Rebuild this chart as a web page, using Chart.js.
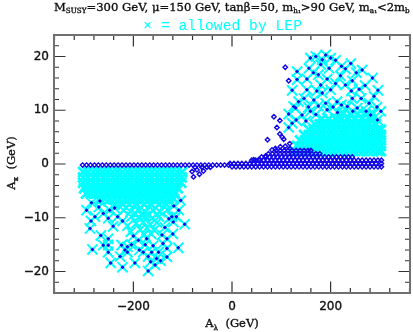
<!DOCTYPE html>
<html>
<head>
<meta charset="UTF-8">
<title>A_kappa vs A_lambda</title>
<script src="https://cdn.jsdelivr.net/npm/chart.js"></script>
<style>
  html, body { margin: 0; padding: 0; background: #fff; }
  #wrap { width: 413px; height: 332px; }
</style>
</head>
<body>
<div id="wrap"><canvas id="grafico" width="413" height="332"></canvas></div>
<script>
// single allowed points, left lobe [A_lambda, A_kappa]
const allowedLeft = [
  [-288,-12.0],[-286,-10.6],[-283,-15.9],[-266,-13.3],[-251,-13.9],[-261,-15.1],[-251,-15.1],[-251,-16.4],
  [-246,-18.4],[-222,-19.2],[-227,-17.2],[-224,-15.1],[-212,-15.4],[-212,-16.4],[-197,-18.4],[-188,-16.0],
  [-170,-19.9],[-156,-18.8],[-153,-17.6],[-170,-17.2],[-180,-16.4],[-149,-16.4],[-132,-17.3],[-132,-15.7],
  [-132,-13.9],[-109,-15.6],[-119,-10.8],[-96,-11.2],[-190,-14.2],[-173,-13.9],[-241,-11.6],[-251,-10.1],
  [-261,-9.2],[-295,-8.6],[-285,-7.2],[-270,-8.0],[-108,-8.6],[-118,-7.8],[-104,-6.8],[-140,-14.8],[-160,-15.2],
  [-217,-16.0],[-204,-15.0],[-165,-18.2],[-145,-18.0],[-120,-13.0],[-122,-9.8],[-113,-9.8],[-136,-11.8],[-128,-10.2],
  [-232,-9.8],[-222,-10.6],[-278,-9.8],[-268,-6.9],[-248,-8.6],[-238,-8.2],[-176,-15.0],
  [-163,-16.4],[-142,-13.2],[-200,-13.4]
];
// crowded allowed points under the left solid part, the blue does not show there
const allowedMid = [
  [-220,-8.6],[-206,-8.9],[-190,-8.5],[-176,-9.0],[-160,-8.6],[-146,-8.9],[-131,-8.5],
  [-204,-9.8],[-190,-10.0],[-176,-9.7],[-162,-10.1],[-148,-9.8],
  [-194,-11.0],[-180,-10.8],[-166,-11.2],[-152,-10.9],[-212,-11.5],[-205,-12.6],
  [-186,-12.2],[-172,-11.9],[-158,-12.3],[-178,-13.1],[-164,-13.0],[-196,-9.2],[-168,-9.4],[-184,-9.4],[-154,-9.4]
];
// single allowed points, right lobe
const allowedRight = [
  [159,19.7],[190,20.3],[183,19.4],[210,19.3],[241,18.7],[264,17.5],[230,17.7],[197,17.8],[180,18.5],[156,17.8],
  [132,17.2],[152,15.8],[132,15.7],[193,15.8],[210,15.0],[244,15.5],[285,16.0],[296,13.7],[258,13.9],[230,14.7],
  [180,14.7],[152,13.8],[122,13.7],[183,13.2],[146,12.2],[166,11.9],[125,10.7],[115,9.3],[142,9.1],[115,6.8],
  [129,10.4],[159,9.8],[190,11.3],[213,11.6],[244,12.2],[278,11.3],[254,10.4],[281,9.1],[302,9.8],[295,8.2],
  [234,10.7],[193,10.1],[170,20.0],[200,19.7],[222,18.2],[252,17.0],[175,16.6],[165,17.0],[220,16.4],[270,14.6],
  [242,13.6],[200,13.8],[172,13.6],[135,11.6],[155,10.6],[175,10.8],[205,10.6],[222,11.0],[262,12.2],[288,12.6],
  [272,9.8],[294,10.6],[130,8.2],[122,7.6],[150,8.0],[170,9.2],[214,9.6],[245,9.8]
];
// solid part of the allowed region, [A_kappa, [A_lambda...]]
const denseLeft = [
  [-1.5,[-302,-292,-282,-272,-262,-252,-242,-232,-222,-212,-202,-192,-182,-172,-162,-152,-142,-132,-122,-112,-101]],
  [-2.5,[-302,-292,-282,-272,-262,-252,-242,-232,-222,-212,-202,-192,-182,-172,-162,-152,-142,-132,-122,-112,-102]],
  [-3.5,[-302,-292,-282,-272,-262,-252,-242,-232,-222,-212,-202,-192,-182,-172,-162,-152,-142,-132,-122,-112,-103]],
  [-4.5,[-300,-290,-280,-270,-260,-250,-240,-230,-220,-210,-200,-190,-180,-170,-160,-150,-140,-130,-120,-110]],
  [-5.5,[-296,-286,-276,-266,-256,-246,-236,-226,-216,-206,-196,-186,-176,-166,-156,-146,-136,-126,-116]],
  [-6.5,[-268,-258,-248,-238,-228,-218,-208,-198,-188,-178,-168,-158,-148,-138,-128,-118]],
  [-7.5,[-238,-222,-208,-194,-178,-164,-148,-134]]
];
const denseRight = [
  [2.4,[126,136,146,156,166,176,186,196,206,216,226,236,246,256,266,276,286,296,302]],
  [3.4,[132,142,152,162,172,182,192,202,212,222,232,242,252,262,272,282,292,302]],
  [4.4,[138,148,158,168,178,188,198,208,218,228,238,248,258,268,278,288,298,302]],
  [5.4,[146,156,166,176,186,196,206,216,226,236,246,256,266,276,286,296,302]],
  [6.4,[156,166,176,186,196,206,216,226,236,246,256,266,276,286,296,302]],
  [7.4,[168,178,188,198,208,218,228,238,248,258,268,278,292]],
  [8.4,[182,196,210,222,236,250,264,282]],
  [9.3,[225,240,255,270,285]]
];
// points outside the allowed region
const excludedPoints = [
  [-78,-2.4],[-66,-1.9],[-58,-1.3],[-81,-1.4],[-71,-1.1],[-51,-0.6],[-61,-0.6],[-75,-0.6],[-44,-0.6],
  [108,18.0],[115,15.5],[85,8.8],[97,8.1],[91,6.8],[97,5.6],[72,4.5],[102,5.0],[105,4.6],[81,2.6],[88,2.9],
  [98,3.2],[108,3.3],[117,2.9],[117,3.8],[68,1.5],[44,0.8],[54,0.8]
];
const bandRows = [
  [-0.2,[-303,-295,-287,-279,-271,-263,-255,-247,-239,-231,-223,-215,-207,-199,-191,-183,-175,-167,-159,-151,-143,-135,-127,-119,-111,-103,-95,-87,-79,-71,-63,-55,-47,-39,-31,-23,-15,-7]],
  [-0.5,[0,8,16,24,32,40,48,56,64,72,80,88,96,104,112,120,128,136,144,152,160,168,176,184,192,200,208,216,224,232,240,248,256,264,272,280,288,296,303]],
  [0.1,[-4,4,12,20,28,36,44,52,60,68,76,84,92,100,108,116,124,132,140,148,156,164,172,180,188,196,204,212,220,228,236,244,252,260,268,276,284,292,303]],
  [0.7,[40,48,56,64,72,80,88,96,104,112,120,128,136,144,152,160,168,176,184,192,200,208,216,224,232,240,248,256,264,272,280,288,296,303]],
  [1.3,[60,68,76,84,92,100,108,116,124,132,140,148,156,164,172,180,188,196,204,212,220,228,236,244]],
  [1.9,[74,82,90,98,106,114,122,130,138,146,154,162,170,178]],
  [2.5,[90,98,106,114,122,130,138,146,154,160]]
];
const xTicksMajor = [-200, 0, 200];
const yTicksMajor = [-20, -10, 0, 10, 20];

const headRuns = [["M"],["SUSY",1],["=300 GeV, μ=150 GeV, tanβ=50, m"],["h₁",1],[">90 GeV, m"],["a₁",1],["<2m"],["b",1]];
const xTitleRuns = [["A"],["λ",1],["  (GeV)"]];
const yTitleRuns = [["A"],["κ",1],["  (GeV)"]];

function expand(rows) {
  return rows.flatMap(r => r[1].map(x => ({ x: x, y: r[0] })));
}
function pts(list) {
  return list.map(p => ({ x: p[0], y: p[1] }));
}
function minus(v) {
  return String(v).replace("-", "\u2212");
}

const textFont = '"DejaVu Serif"';

function drawRuns(ctx, runs, size, family, x, y, align) {
  ctx.textBaseline = "alphabetic";
  ctx.textAlign = "left";
  ctx.lineWidth = 0.35;
  ctx.strokeStyle = ctx.fillStyle;
  const wid = r => { ctx.font = (r[1] ? size * 0.62 : size) + "px " + family; return ctx.measureText(r[0]).width; };
  let total = 0;
  runs.forEach(r => total += wid(r));
  let px = align === "center" ? x - total / 2 : x;
  runs.forEach(r => {
    const w = wid(r);
    const py = r[1] ? y + size * 0.22 : y;
    ctx.fillText(r[0], px, py);
    ctx.strokeText(r[0], px, py);
    px += w;
  });
}

const marcoPlugin = {
  id: "marco",
  afterDatasetsDraw(chart) {
    const ctx = chart.ctx, a = chart.chartArea;
    const sx = chart.scales.x, sy = chart.scales.y;
    ctx.save();
    ctx.strokeStyle = "#333";
    ctx.lineWidth = 1.2;
    ctx.beginPath();
    sx.ticks.forEach(t => {
      const p = sx.getPixelForValue(t.value);
      const l = xTicksMajor.includes(t.value) ? 11.5 : 5;
      ctx.moveTo(p, a.bottom); ctx.lineTo(p, a.bottom - l);
      ctx.moveTo(p, a.top); ctx.lineTo(p, a.top + l);
    });
    sy.ticks.forEach(t => {
      const p = sy.getPixelForValue(t.value);
      const l = yTicksMajor.includes(t.value) ? 11.5 : 5;
      ctx.moveTo(a.left, p); ctx.lineTo(a.left + l, p);
      ctx.moveTo(a.right, p); ctx.lineTo(a.right - l, p);
    });
    ctx.stroke();
    ctx.strokeStyle = "#707070";
    ctx.lineWidth = 2;
    ctx.strokeRect(a.left, a.top, a.right - a.left, a.bottom - a.top);

    ctx.fillStyle = "#111";
    drawRuns(ctx, headRuns, 11.6, textFont, 54, 10.5, "left");
    drawRuns(ctx, xTitleRuns, 11.5, textFont, 232, 327, "center");
    ctx.translate(15, 163);
    ctx.rotate(-Math.PI / 2);
    drawRuns(ctx, yTitleRuns, 11.5, textFont, 0, 0, "center");
    ctx.restore();
  }
};

const allowedAll = allowedLeft.concat(allowedRight);

new Chart(document.getElementById("grafico"), {
  type: "scatter",
  data: {
    datasets: [
      {
        label: "all points",
        data: pts(excludedPoints).concat(expand(bandRows)),
        pointStyle: "rectRot",
        pointRadius: 2.2,
        pointBorderWidth: 1.4,
        pointBorderColor: "#1408e6",
        pointBackgroundColor: "rgba(0,0,0,0)",
        order: 1
      },
      {
        label: "allowed centres",
        data: pts(allowedAll),
        pointStyle: "rectRot",
        pointRadius: 2,
        pointBorderWidth: 0,
        pointBackgroundColor: "#1408e6",
        order: 1
      },
      {
        label: "allowed by LEP",
        data: pts(allowedAll.concat(allowedMid)),
        pointStyle: "crossRot",
        pointRadius: 7.2,
        pointBorderWidth: 2,
        pointBorderColor: "#00ffff",
        order: 2
      },
      {
        label: "allowed by LEP, solid part",
        data: expand(denseLeft).concat(expand(denseRight)),
        pointStyle: "crossRot",
        pointRadius: 7,
        pointBorderWidth: 2.8,
        pointBorderColor: "#00ffff",
        order: 3
      }
    ]
  },
  options: {
    responsive: false,
    animation: false,
    layout: { autoPadding: false, padding: { top: 0, right: 3, left: 0, bottom: 0 } },
    plugins: {
      legend: { display: false },
      tooltip: { enabled: false },
      title: {
        display: true,
        text: "    \u00d7 = allowed by LEP",
        color: "#00ffff",
        font: { family: '"Liberation Mono"', size: 14.7, weight: "normal", lineHeight: 1 },
        padding: { top: 18.5, bottom: 1.8 }
      }
    },
    scales: {
      x: {
        type: "linear",
        min: -361,
        max: 361,
        border: { display: false },
        grid: { display: false, drawTicks: false },
        ticks: {
          stepSize: 40,
          includeBounds: false,
          autoSkip: false,
          maxRotation: 0,
          padding: 7,
          color: "#111",
          textStrokeColor: "#111",
          textStrokeWidth: 0.35,
          font: { family: '"DejaVu Sans"', size: 12 },
          callback: v => xTicksMajor.includes(v) ? minus(v) : ""
        },
        afterFit(s) { s.height = 39; s.paddingLeft = 0; s.paddingRight = 0; }
      },
      y: {
        type: "linear",
        min: -24,
        max: 24,
        border: { display: false },
        grid: { display: false, drawTicks: false },
        ticks: {
          stepSize: 2,
          includeBounds: false,
          autoSkip: false,
          padding: 5,
          color: "#111",
          textStrokeColor: "#111",
          textStrokeWidth: 0.35,
          font: { family: '"DejaVu Sans"', size: 12 },
          callback: v => yTicksMajor.includes(v) ? minus(v) : ""
        },
        afterFit(s) { s.width = 54; s.paddingTop = 0; s.paddingBottom = 0; }
      }
    }
  },
  plugins: [marcoPlugin]
});
</script>
</body>
</html>
